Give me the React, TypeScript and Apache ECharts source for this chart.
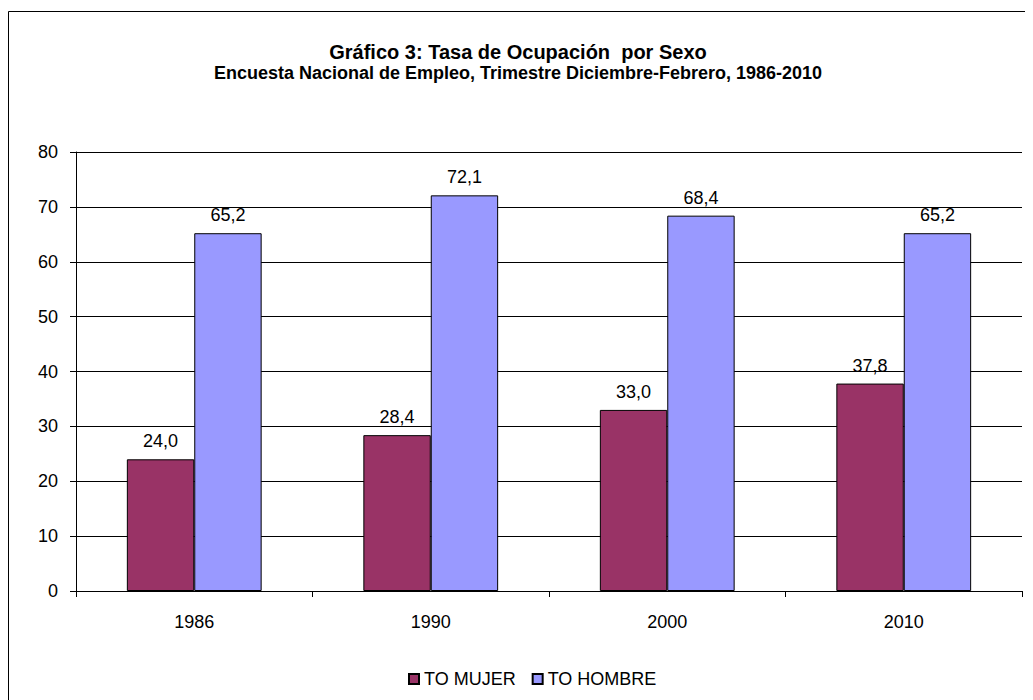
import React, { useEffect, useRef } from "react";
import * as echarts from "echarts";

const categories = ["1986", "1990", "2000", "2010"];
const mujer = [24.0, 28.4, 33.0, 37.8];
const hombre = [65.2, 72.1, 68.4, 65.2];
const seriesNames = ["TO MUJER", "TO HOMBRE"];
const titleText = "Gráfico 3: Tasa de Ocupación  por Sexo";
const subtitleText = "Encuesta Nacional de Empleo, Trimestre Diciembre-Febrero, 1986-2010";

export default function App() {
  const ref = useRef<HTMLDivElement>(null);
  useEffect(() => {
    if (!ref.current) return;
    const chart = echarts.init(ref.current, null, { renderer: "svg" });
    const font = "Arial, 'Liberation Sans', sans-serif";
    const label = {
      show: true,
      position: "top" as const,
      distance: 9,
      color: "#000",
      fontSize: 18,
      fontFamily: font,
      formatter: (p: any) => Number(p.value).toFixed(1).replace(".", ","),
    };
    chart.setOption({
      animation: false,
      backgroundColor: "#fff",
      textStyle: { fontFamily: font },
      graphic: [
        {
          type: "rect",
          shape: { x: 0.5, y: 3.5, width: 1100, height: 800 },
          style: { fill: "none", stroke: "#000", lineWidth: 1 },
          silent: true,
        },
        {
          type: "text",
          x: 510,
          y: 44,
          style: {
            text: titleText,
            fontSize: 20,
            fontWeight: "bold",
            fontFamily: font,
            fill: "#000",
            align: "center",
            verticalAlign: "middle",
          },
        },
        {
          type: "text",
          x: 510,
          y: 65,
          style: {
            text: subtitleText,
            fontSize: 18,
            fontWeight: "bold",
            fontFamily: font,
            fill: "#000",
            align: "center",
            verticalAlign: "middle",
          },
        },
      ],
      legend: {
        data: seriesNames,
        left: 395,
        top: 657,
        itemWidth: 10,
        itemHeight: 10,
        itemGap: 16,
        icon: "rect",
        textStyle: { fontSize: 18, color: "#000", fontFamily: font },
      },
      grid: { left: 68, right: 11, top: 144, bottom: 109, containLabel: false },
      xAxis: {
        type: "category",
        data: categories,
        axisLine: { show: true, lineStyle: { color: "#000", width: 1 } },
        axisTick: { show: true, alignWithLabel: false, length: 6, lineStyle: { color: "#000" } },
        axisLabel: { color: "#000", fontSize: 18, margin: 22, fontFamily: font },
      },
      yAxis: {
        type: "value",
        min: 0,
        max: 80,
        interval: 10,
        axisLine: { show: true, lineStyle: { color: "#000", width: 1 } },
        axisTick: { show: true, length: 6, lineStyle: { color: "#000" } },
        axisLabel: { color: "#000", fontSize: 18, margin: 18, fontFamily: font },
        splitLine: { show: true, lineStyle: { color: "#000", width: 1 } },
      },
      series: [
        {
          name: seriesNames[0],
          type: "bar",
          data: mujer,
          barWidth: "28.5%",
          barGap: "0%",
          itemStyle: { color: "#993366", borderColor: "#000", borderWidth: 1 },
          label,
        },
        {
          name: seriesNames[1],
          type: "bar",
          data: hombre,
          barWidth: "28.5%",
          barGap: "0%",
          itemStyle: { color: "#9999FF", borderColor: "#000", borderWidth: 1 },
          label,
        },
      ],
    });
    return () => chart.dispose();
  }, []);
  return <div ref={ref} style={{ width: 1025, height: 692 }} />;
}
